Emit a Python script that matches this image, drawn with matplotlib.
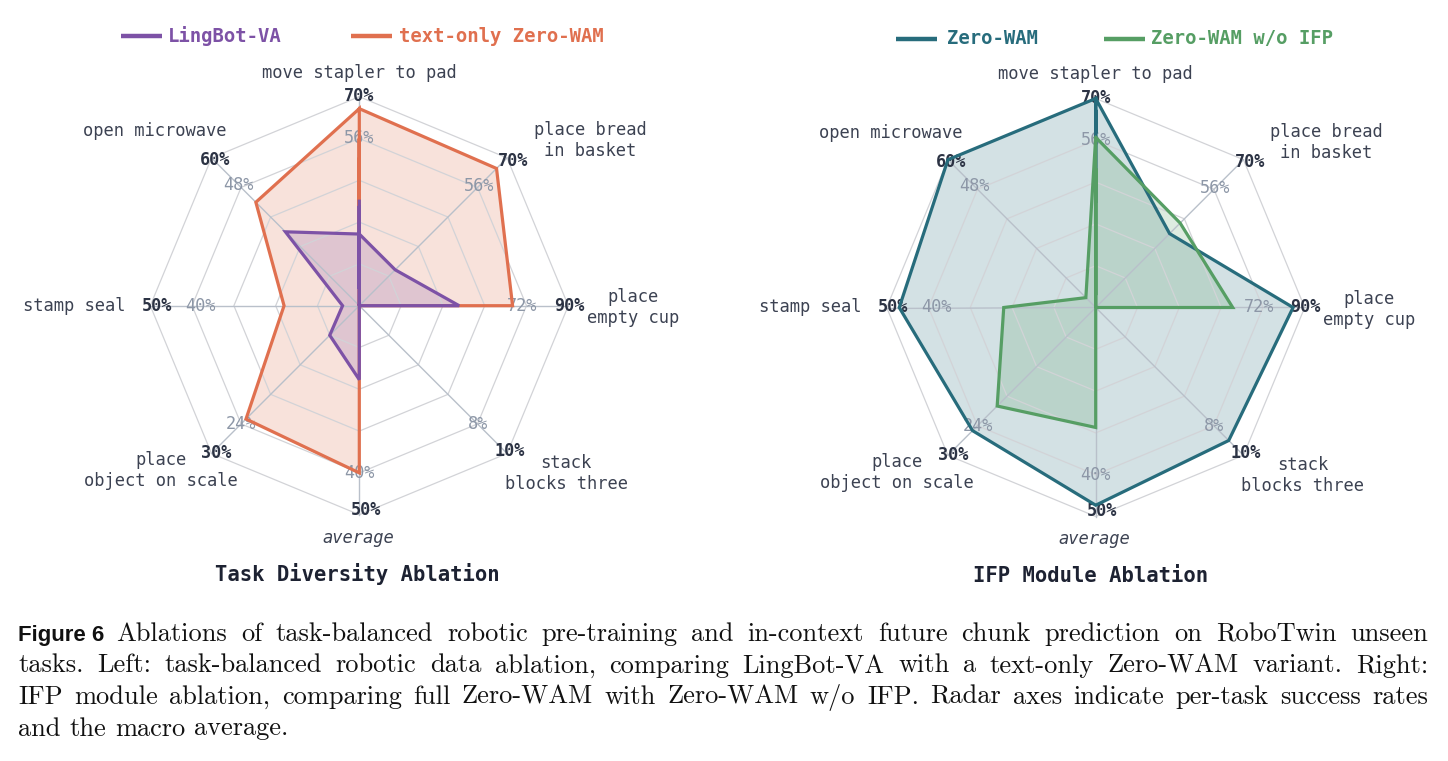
import matplotlib
matplotlib.use("Agg")
import matplotlib.pyplot as plt
import numpy as np
from matplotlib.lines import Line2D

# ---------------- data ----------------
tasks = ["move stapler to pad", "place bread\nin basket", "place\nempty cup",
         "stack\nblocks three", "average", "place\nobject on scale",
         "stamp seal", "open microwave"]
axis_max = [70, 70, 90, 10, 50, 30, 50, 60]
lingbot_va = [24, 17, 43, 0, 17.7, 6, 4, 30]
text_only_zero_wam = [66, 65, 66, 0, 40, 23, 18, 42]
zero_wam = [70, 35, 85, 9, 47.3, 25, 47, 60]
zero_wam_wo_ifp = [57, 40, 59, 0, 28.7, 20, 22, 4]
ring_levels = [0.2, 0.4, 0.6, 0.8, 1.0]
max_labels = ["70%", "70%", "90%", "10%", "50%", "30%", "50%", "60%"]
inner_labels = ["56%", "56%", "72%", "8%", "40%", "24%", "40%", "48%"]

left_series = [("text-only Zero-WAM", text_only_zero_wam, "#e0704f"),
               ("LingBot-VA", lingbot_va, "#7d52a6")]
right_series = [("Zero-WAM", zero_wam, "#276c7c"),
                ("Zero-WAM w/o IFP", zero_wam_wo_ifp, "#569e64")]

# ---------------- layout ----------------
W, H = 1448, 761
fig = plt.figure(figsize=(W / 100, H / 100), dpi=100)
U = 209.0
HX, HY = 1.72, 1.45
MONO = "DejaVu Sans Mono"
LINE_STEP = 21.0 / U

theta = np.deg2rad(np.arange(len(tasks)) * 45.0)
sx, cy_ = np.sin(theta), np.cos(theta)

# label positions (in radius units)
cat_pos = [(0.0, 1.115, "center"), (1.104, 0.79, "center"), (1.31, -0.01, "center"),
           (0.99, -0.805, "center"), (-0.005, -1.11, "center"), (-0.95, -0.79, "center"),
           (-1.121, 0.0, "right"), (-0.98, 0.836, "center")]
max_pos = [(0.0, 1.003), (0.737, 0.694), (1.005, 0.0), (0.718, -0.695),
           (0.032, -0.976), (-0.684, -0.707), (-0.97, 0.0), (-0.69, 0.697)]
inner_r = [0.8, 0.81, 0.78, 0.8, 0.8, 0.8, 0.76, 0.82]


def make_axes(cx, cy):
    w = 2 * HX * U
    h = 2 * HY * U
    left = cx - HX * U
    bottom = (H - cy) - HY * U
    ax = fig.add_axes([left / W, bottom / H, w / W, h / H])
    ax.set_xlim(-HX, HX)
    ax.set_ylim(-HY, HY)
    ax.axis("off")
    return ax


def radar(ax, series):
    for f in ring_levels:
        ax.plot(np.append(f * sx, f * sx[0]), np.append(f * cy_, f * cy_[0]),
                color="#d2d3d7", lw=0.9, zorder=2.2)
    for i in range(len(tasks)):
        ax.plot([0, sx[i]], [0, cy_[i]], color="#b9c0ca", lw=1.0, zorder=2.3)
    mx = np.array(axis_max, dtype=float)
    for name, vals, col in series:
        r = np.array(vals, dtype=float) / mx
        x = np.append(r * sx, r * sx[0])
        y = np.append(r * cy_, r * cy_[0])
        ax.fill(x, y, color=col, alpha=0.2, lw=0, zorder=2)
        ax.plot(x, y, color=col, lw=2.3, zorder=3, solid_joinstyle="miter")
    for i, t in enumerate(tasks):
        px, py, ha = cat_pos[i]
        lines = t.split("\n")
        n = len(lines)
        for k, ln in enumerate(lines):
            yy = py + (n - 1) / 2 * LINE_STEP - k * LINE_STEP
            ax.text(px, yy, ln, ha=ha, va="center", fontsize=12.3, family=MONO,
                    color="#3c4252",
                    style="italic" if t == "average" else "normal", zorder=4)
        mxp, myp = max_pos[i]
        ax.text(mxp, myp, max_labels[i], ha="center", va="center", fontsize=12.2,
                family=MONO, fontweight="bold", color="#2c3344", zorder=2.5)
        ax.text(inner_r[i] * sx[i], inner_r[i] * cy_[i], inner_labels[i], ha="center",
                va="center", fontsize=12.2, family=MONO, color="#8d97a7", zorder=2.5)


axL = make_axes(359.3, 305.7)
radar(axL, left_series)
axR = make_axes(1095.7, 307.5)
radar(axR, right_series)


def fy(y):
    return 1 - y / H


def legend_item(x_line, x_text, y, label, col):
    fig.add_artist(Line2D([x_line / W, (x_line + 41) / W], [fy(y), fy(y)],
                          transform=fig.transFigure, color=col, lw=3.2,
                          solid_capstyle="butt"))
    fig.text(x_text / W, fy(y), label, ha="left", va="center", fontsize=13.6,
             family=MONO, fontweight="bold", color=col)


legend_item(121, 168, 36, "LingBot-VA", "#7d52a6")
legend_item(351, 399, 36, "text-only Zero-WAM", "#e0704f")
legend_item(896, 947, 39, "Zero-WAM", "#276c7c")
legend_item(1104, 1151, 39, "Zero-WAM w/o IFP", "#569e64")

fig.text(357 / W, fy(574), "Task Diversity Ablation", ha="center", va="center",
         fontsize=14.8, family=MONO, fontweight="bold", color="#1d2232")
fig.text(1091 / W, fy(576), "IFP Module Ablation", ha="center", va="center",
         fontsize=14.8, family=MONO, fontweight="bold", color="#1d2232")

# ---------------- caption ----------------
SERIF = ["cmr10", "DejaVu Serif"]
CAP_SIZE = 19.0
renderer = fig.canvas.get_renderer()
cap_lines = [
    "Ablations of task-balanced robotic pre-training and in-context future chunk prediction on RoboTwin unseen",
    "tasks. Left: task-balanced robotic data ablation, comparing LingBot-VA with a text-only Zero-WAM variant. Right:",
    "IFP module ablation, comparing full Zero-WAM with Zero-WAM w/o IFP. Radar axes indicate per-task success rates",
    "and the macro average.",
]
baselines = [641, 672.5, 704, 735.5]
X0, X1 = 18, 1428

fig_lab = fig.text(X0 / W, fy(baselines[0]), "Figure 6", ha="left", va="baseline",
                   fontsize=16, family=["Liberation Sans", "DejaVu Sans"],
                   fontweight="bold", color="#111111")
fig_w = fig_lab.get_window_extent(renderer).width


def measure(s):
    t = fig.text(0, 0, s, fontsize=CAP_SIZE, family=SERIF)
    w = t.get_window_extent(renderer).width
    t.remove()
    return w


space_w = measure("a a") - measure("aa")

for li, line in enumerate(cap_lines):
    words = line.split(" ")
    start = X0 + fig_w + 12 if li == 0 else X0
    texts = [fig.text(0, fy(baselines[li]), w, ha="left", va="baseline",
                      fontsize=CAP_SIZE, family=SERIF, color="#111111") for w in words]
    widths = [t.get_window_extent(renderer).width for t in texts]
    if li < len(cap_lines) - 1:
        gap = (X1 - start - sum(widths)) / (len(words) - 1)
    else:
        gap = space_w
    x = start
    for t, wd in zip(texts, widths):
        t.set_x(x / W)
        x += wd + gap

fig.savefig("out.png", dpi=100)
